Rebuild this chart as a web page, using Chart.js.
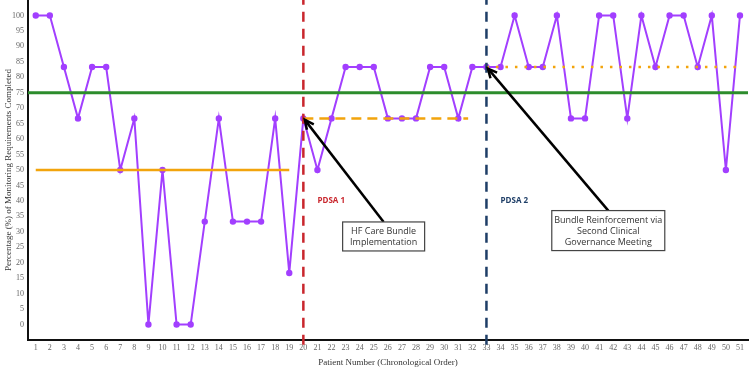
<!DOCTYPE html>
<html>
<head>
<meta charset="utf-8">
<script src="https://cdn.jsdelivr.net/npm/chart.js@4.4.1/dist/chart.umd.min.js"></script>
<style>
  html, body { margin: 0; padding: 0; background: #fff; }
  #wrap { width: 750px; height: 370px; position: relative; }
</style>
</head>
<body>
<div id="wrap"><canvas id="runChart"></canvas></div>
<script>
// patient numbers 1..51 and % of monitoring requirements completed
const patients = [1,2,3,4,5,6,7,8,9,10,11,12,13,14,15,16,17,18,19,20,21,22,23,24,25,26,
  27,28,29,30,31,32,33,34,35,36,37,38,39,40,41,42,43,44,45,46,47,48,49,50,51];
const completed = [100,100,83.3,66.7,83.3,83.3,50,66.7,0,50,0,0,33.3,66.7,33.3,33.3,33.3,66.7,16.7,
  66.7,50,66.7,83.3,83.3,83.3,66.7,66.7,66.7,83.3,83.3,66.7,83.3,
  83.3,83.3,100,83.3,83.3,100,66.7,66.7,100,100,66.7,100,83.3,100,100,83.3,100,50,100];
const yTicks = [0,5,10,15,20,25,30,35,40,45,50,55,60,65,70,75,80,85,90,95,100];

const target = 75;
// medians per phase: [from, to, value]
const baselineMedian = [1, 19, 50];
const pdsa1Median = [20, 31.7, 66.7];
const pdsa2Median = [33, 51, 83.3];
// change points
const pdsaStarts = [20, 33];
const pdsaLabels = ['PDSA 1', 'PDSA 2'];

const X_MIN = 0.45, X_MAX = 51.57, Y_MIN = -5, Y_MAX = 105;

const purple = '#a23fff';
const orange = '#f2a40c';
const green = '#2c8c2c';
const red = '#c9262d';
const navy = '#1e3e67';

function segment(from, to, y) {
  return [{ x: from, y: y }, { x: to, y: y }];
}
function vertical(x) {
  return [{ x: x, y: Y_MIN - 1.5 }, { x: x, y: Y_MAX }];
}

const annotations = {
  id: 'annotations',
  afterDatasetsDraw(chart) {
    const ctx = chart.ctx;
    const xs = chart.scales.x, ys = chart.scales.y;
    ctx.save();

    // PDSA labels
    ctx.font = 'bold 8px "Open Sans", sans-serif';
    ctx.textBaseline = 'middle';
    ctx.textAlign = 'left';
    ctx.fillStyle = red;
    ctx.fillText(pdsaLabels[0], xs.getPixelForValue(pdsaStarts[0] + 1), ys.getPixelForValue(40));
    ctx.fillStyle = navy;
    ctx.fillText(pdsaLabels[1], xs.getPixelForValue(pdsaStarts[1] + 1), ys.getPixelForValue(40));

    const notes = [
      { lines: ['HF Care Bundle', 'Implementation'], cx: 25.7, cy: 28.5, w: 82,
        tipX: pdsaStarts[0], tipY: completed[pdsaStarts[0] - 1] },
      { lines: ['Bundle Reinforcement via', 'Second Clinical', 'Governance Meeting'], cx: 41.65, cy: 30.4, w: 113,
        tipX: pdsaStarts[1], tipY: completed[pdsaStarts[1] - 1] }
    ];
    ctx.font = '9px "Open Sans", sans-serif';
    notes.forEach(n => {
      const lh = 11;
      const h = n.lines.length * lh + 7;
      const cx = xs.getPixelForValue(n.cx), cy = ys.getPixelForValue(n.cy);
      const left = cx - n.w / 2, top = cy - h / 2;

      // arrow
      const tx = xs.getPixelForValue(n.tipX) + 1.5, ty = ys.getPixelForValue(n.tipY) + 1.5;
      ctx.strokeStyle = '#000';
      ctx.lineWidth = 2.5;
      ctx.beginPath();
      ctx.moveTo(cx, top);
      ctx.lineTo(tx, ty);
      ctx.stroke();
      const ang = Math.atan2(ty - top, tx - cx);
      const len = 10;
      ctx.beginPath();
      ctx.moveTo(tx - len * Math.cos(ang - 0.45), ty - len * Math.sin(ang - 0.45));
      ctx.lineTo(tx, ty);
      ctx.lineTo(tx - len * Math.cos(ang + 0.45), ty - len * Math.sin(ang + 0.45));
      ctx.stroke();

      // box
      ctx.fillStyle = '#fff';
      ctx.fillRect(left, top, n.w, h);
      ctx.strokeStyle = '#444';
      ctx.lineWidth = 1.2;
      ctx.strokeRect(left, top, n.w, h);
      ctx.fillStyle = '#333';
      ctx.textAlign = 'center';
      n.lines.forEach((t, i) => {
        ctx.fillText(t, cx, top + 4 + lh / 2 + i * lh);
      });
    });
    ctx.restore();
  }
};

const ctx = document.getElementById('runChart').getContext('2d');

new Chart(ctx, {
  type: 'line',
  data: {
    datasets: [
      {
        data: segment(X_MIN, X_MAX, target),
        borderColor: green, borderWidth: 3, pointRadius: 0, order: 1
      },
      {
        data: segment(baselineMedian[0], baselineMedian[1], baselineMedian[2]),
        borderColor: orange, borderWidth: 2.5, pointRadius: 0, order: 2
      },
      {
        data: segment(pdsa1Median[0], pdsa1Median[1], pdsa1Median[2]),
        borderColor: orange, borderWidth: 2.5, borderDash: [10, 6], pointRadius: 0, order: 2
      },
      {
        data: segment(pdsa2Median[0], pdsa2Median[1], pdsa2Median[2]),
        borderColor: orange, borderWidth: 2.5, borderDash: [2.5, 7], pointRadius: 0, order: 2
      },
      {
        data: vertical(pdsaStarts[0]),
        borderColor: red, borderWidth: 2.5, borderDash: [10, 7], pointRadius: 0, order: 0
      },
      {
        data: vertical(pdsaStarts[1]),
        borderColor: navy, borderWidth: 2.5, borderDash: [10, 7], pointRadius: 0, order: 0
      },
      {
        data: patients.map((p, i) => ({ x: p, y: completed[i] })),
        borderColor: purple, backgroundColor: purple, borderWidth: 2,
        pointRadius: 2.2, pointHoverRadius: 2.2, tension: 0, order: 3
      }
    ]
  },
  options: {
    responsive: true,
    maintainAspectRatio: false,
    animation: false,
    clip: false,
    layout: { autoPadding: false, padding: { top: 0, right: 2, left: 0, bottom: 0 } },
    plugins: { legend: { display: false }, tooltip: { enabled: false } },
    elements: { line: { tension: 0 } },
    scales: {
      x: {
        type: 'linear', min: X_MIN, max: X_MAX,
        afterBuildTicks: s => { s.ticks = patients.map(v => ({ value: v })); },
        afterFit: s => { s.height = 30; },
        grid: { display: false, drawTicks: false },
        border: { display: true, color: '#111', width: 2 },
        ticks: {
          autoSkip: false, maxRotation: 0, padding: 3,
          color: '#666', font: { family: '"Liberation Serif", serif', size: 8 }
        },
        title: {
          display: true, text: 'Patient Number (Chronological Order)',
          color: '#333', font: { family: '"Liberation Serif", serif', size: 9 },
          padding: { top: 4, bottom: 2 }
        }
      },
      y: {
        type: 'linear', min: Y_MIN, max: Y_MAX,
        afterBuildTicks: s => { s.ticks = yTicks.map(v => ({ value: v })); },
        afterFit: s => { s.width = 28; s.paddingTop = 0; s.paddingBottom = 0; },
        grid: { display: false, drawTicks: false },
        border: { display: true, color: '#111', width: 2 },
        ticks: {
          autoSkip: false, padding: 4,
          color: '#666', font: { family: '"Liberation Serif", serif', size: 8 }
        },
        title: {
          display: true, text: 'Percentage (%) of Monitoring Requirements Completed',
          color: '#333', font: { family: '"Liberation Serif", serif', size: 9 },
          padding: { top: 3, bottom: 0 }
        }
      }
    }
  },
  plugins: [annotations]
});
</script>
</body>
</html>
